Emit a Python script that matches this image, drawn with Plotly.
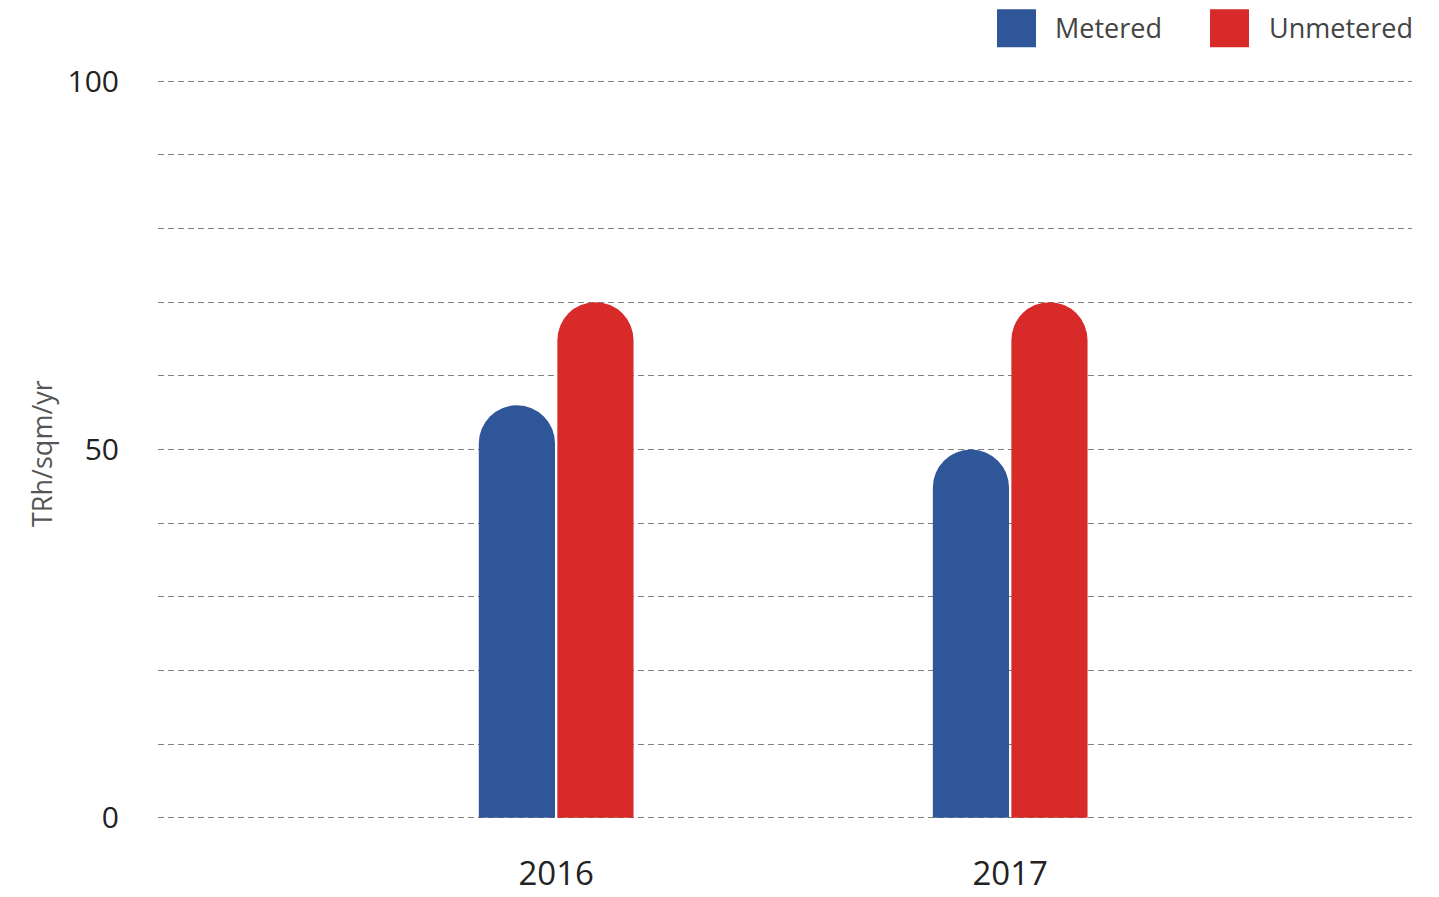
import plotly.graph_objects as go

years = ["2016", "2017"]
metered = [56, 50]
unmetered = [70, 70]
series_names = ["Metered", "Unmetered"]
y_tick_vals = [0, 10, 20, 30, 40, 50, 60, 70, 80, 90, 100]
y_tick_text = ["0", "", "", "", "", "50", "", "", "", "", "100"]

BLUE = "#2F5699"
RED = "#D92A2A"
FONT = "Open Sans"

W, H = 1439, 897

# target pixel geometry
Y0_PX, Y100_PX = 818, 81
PAD = 0.45  # axis-unit padding so the 0 and 100 gridlines are drawn
unit = (Y0_PX - Y100_PX) / 100.0
plot_top = Y100_PX - PAD * unit
plot_bot = Y0_PX + PAD * unit
plot_left = 158
plot_right = 1412

L = plot_left
R = W - plot_right
T = plot_top
B = H - plot_bot
pw, ph = plot_right - plot_left, plot_bot - plot_top


def px_x(p):
    return (p - plot_left) / pw


def px_y(p):
    return (plot_bot - p) / ph


fig = go.Figure()
fig.add_trace(go.Bar(x=years, y=metered, name=series_names[0],
                     marker=dict(color=BLUE, cornerradius="50%", line=dict(width=0)),
                     showlegend=False))
fig.add_trace(go.Bar(x=years, y=unmetered, name=series_names[1],
                     marker=dict(color=RED, cornerradius="50%", line=dict(width=0)),
                     showlegend=False))

shapes = []
annotations = []
legend_items = [(series_names[0], BLUE, 997, 1053), (series_names[1], RED, 1210, 1267)]
for name, col, sx, tx in legend_items:
    shapes.append(dict(type="rect", xref="paper", yref="paper",
                       x0=px_x(sx), x1=px_x(sx + 39), y0=px_y(47), y1=px_y(9),
                       fillcolor=col, line=dict(width=0)))
    annotations.append(dict(xref="paper", yref="paper", x=px_x(tx), y=px_y(27),
                            text=name, showarrow=False, xanchor="left", yanchor="middle",
                            font=dict(family=FONT, size=27, color="#444444")))

annotations.append(dict(xref="paper", yref="paper", x=px_x(42), y=px_y(453),
                        text="TRh/sqm/yr", textangle=-90, showarrow=False,
                        xanchor="center", yanchor="middle",
                        font=dict(family=FONT, size=27, color="#555555")))

fig.update_layout(
    width=W, height=H,
    margin=dict(l=L, r=R, t=T, b=B, pad=0, autoexpand=False),
    plot_bgcolor="white", paper_bgcolor="white",
    barmode="group", bargap=0.654, bargroupgap=0.03,
    shapes=shapes, annotations=annotations,
    font=dict(family=FONT, color="#222222"),
    xaxis=dict(type="category", range=[-0.877, 1.885], showgrid=False, showline=False,
               zeroline=False, ticks="", tickfont=dict(size=33, color="#222222"),
               ticklabelstandoff=30, fixedrange=True),
    yaxis=dict(range=[-PAD, 100 + PAD], tickmode="array", tickvals=y_tick_vals,
               ticktext=y_tick_text,
               showgrid=True, gridcolor="#7f7f7f", griddash="6px,4px", gridwidth=1,
               zeroline=False, showline=False, ticks="",
               tickfont=dict(size=30, color="#222222"), ticklabelstandoff=38,
               fixedrange=True),
)

fig.write_html(
    "out.html",
    config={"displayModeBar": False},
    post_script="document.body.style.margin='0';document.body.style.overflow='hidden';",
)
